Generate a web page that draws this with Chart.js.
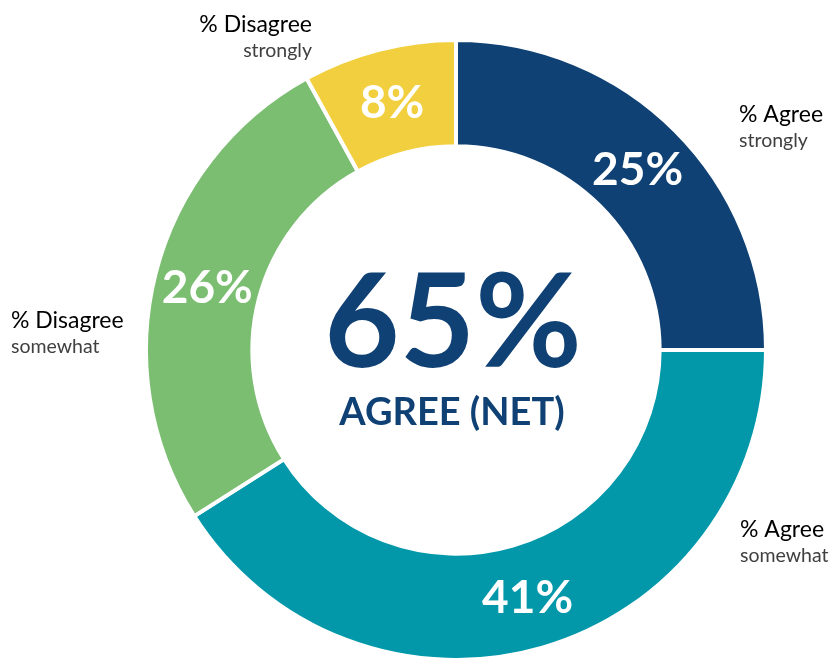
<!DOCTYPE html>
<html>
<head>
<meta charset="utf-8">
<script src="https://cdn.jsdelivr.net/npm/chart.js@4/dist/chart.umd.min.js"></script>
<style>
  html, body { margin: 0; padding: 0; background: #ffffff; }
  #wrap { width: 836px; height: 658px; position: relative; }
</style>
</head>
<body>
<div id="wrap"><canvas id="donut" width="836" height="658"></canvas></div>
<script>
// Survey responses, clockwise from 12 o'clock
const categories = ['% Agree', '% Agree', '% Disagree', '% Disagree'];
const subLabels  = ['strongly', 'somewhat', 'somewhat', 'strongly'];
const shares     = [25, 41, 26, 8];
// Net agreement as reported (computed from unrounded shares)
const netAgree   = 65;
const netLabel   = 'AGREE (NET)';

const colors = ['#0F4174', '#0298A9', '#7BBE72', '#F2CF3F'];
const navy = '#0F4174';
const FONT = 'Lato, "Open Sans", sans-serif';

// Percent values inside each ring segment
const sliceLabels = {
  id: 'sliceLabels',
  afterDatasetsDraw(chart) {
    const ctx = chart.ctx;
    const meta = chart.getDatasetMeta(0);
    ctx.save();
    ctx.fillStyle = '#ffffff';
    ctx.font = 'bold 46px ' + FONT;
    ctx.textAlign = 'center';
    ctx.textBaseline = 'alphabetic';
    meta.data.forEach((arc, i) => {
      const p = arc.getProps(['x', 'y', 'startAngle', 'endAngle', 'innerRadius', 'outerRadius'], true);
      const a = (p.startAngle + p.endAngle) / 2;
      const r = (p.innerRadius + p.outerRadius) / 2;
      const x = p.x + Math.cos(a) * r;
      const y = p.y + Math.sin(a) * r;
      ctx.fillText(shares[i] + '%', x, y + 16.5);
    });
    ctx.restore();
  }
};

// Net agree figure in the hole
const centerText = {
  id: 'centerText',
  afterDatasetsDraw(chart) {
    const ctx = chart.ctx;
    const arc = chart.getDatasetMeta(0).data[0];
    const cx = arc.x, cy = arc.y;
    ctx.save();
    ctx.fillStyle = navy;
    ctx.textAlign = 'center';
    ctx.textBaseline = 'alphabetic';
    ctx.font = 'bold 130px ' + FONT;
    ctx.fillText(netAgree + '%', cx - 3, cy + 17);
    ctx.font = 'bold 38px ' + FONT;
    ctx.fillText(netLabel, cx - 4, cy + 75);
    ctx.restore();
  }
};

// Category names around the ring
const outerLabels = {
  id: 'outerLabels',
  afterDraw(chart) {
    const ctx = chart.ctx;
    const arc = chart.getDatasetMeta(0).data[0];
    const cx = arc.x, cy = arc.y;
    // [x offset, title baseline offset, align]
    const place = [
      [283, -228, 'left'],
      [284, 187, 'left'],
      [-445, -22, 'left'],
      [-144, -318, 'right']
    ];
    ctx.save();
    ctx.textBaseline = 'alphabetic';
    place.forEach((pl, i) => {
      ctx.textAlign = pl[2];
      ctx.fillStyle = '#000000';
      ctx.font = '23px ' + FONT;
      ctx.fillText(categories[i], cx + pl[0], cy + pl[1]);
      ctx.fillStyle = '#404040';
      ctx.font = '19.5px ' + FONT;
      ctx.fillText(subLabels[i], cx + pl[0], cy + pl[1] + 25);
    });
    ctx.restore();
  }
};

new Chart(document.getElementById('donut'), {
  type: 'doughnut',
  data: {
    labels: categories.map((c, i) => c + ' ' + subLabels[i]),
    datasets: [{
      data: shares,
      backgroundColor: colors,
      borderColor: '#ffffff',
      borderWidth: 4,
      hoverOffset: 0
    }]
  },
  options: {
    responsive: false,
    animation: false,
    radius: 310,
    cutout: 201,
    layout: { padding: { left: 148, right: 72, top: 42, bottom: 0 } },
    plugins: {
      legend: { display: false },
      tooltip: { enabled: false }
    }
  },
  plugins: [sliceLabels, centerText, outerLabels]
});
</script>
</body>
</html>
